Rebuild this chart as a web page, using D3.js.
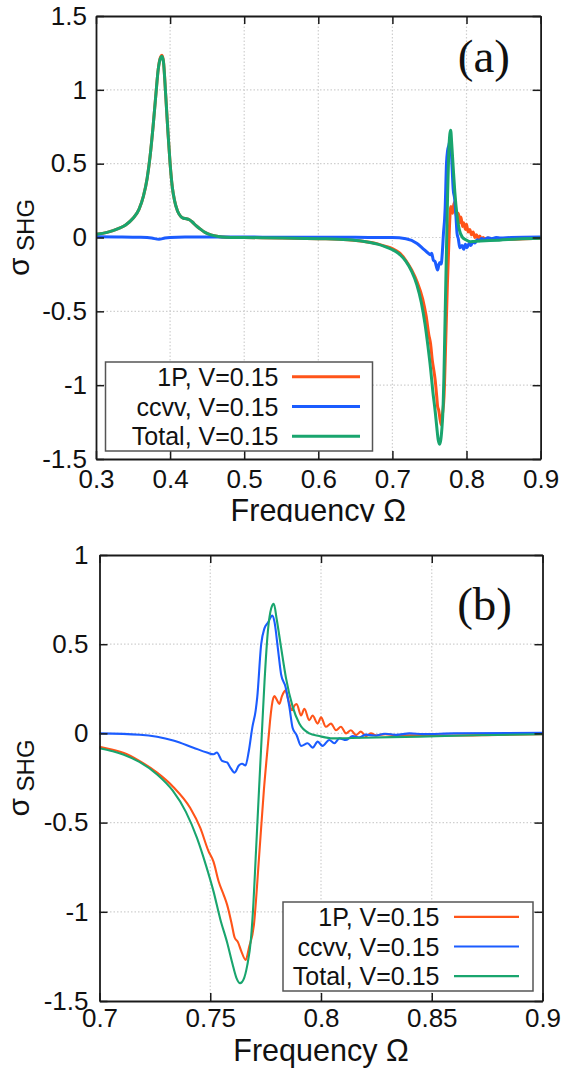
<!DOCTYPE html>
<html>
<head>
<meta charset="utf-8">
<script src="https://cdn.jsdelivr.net/npm/d3@7"></script>
<style>
  html, body { margin: 0; padding: 0; background: #fff; }
  svg { display: block; }
</style>
</head>
<body>
<svg id="chart" width="567" height="1068"></svg>
<script>
// ---------------- DATA ----------------
const seriesNames = ["1P, V=0.15", "ccvv, V=0.15", "Total, V=0.15"];

const onePOmega = [0.300,0.315,0.330,0.340,0.350,0.358,0.364,0.369,0.373,0.377,0.381,0.384,0.387,0.389,0.391,0.394,0.397,0.400,0.403,0.406,0.410,0.414,0.418,0.422,0.426,0.430,0.435,0.440,0.447,0.455,0.465,0.475,0.500,0.550,0.600,0.640,0.660,0.680,0.690,
  0.700,0.706,0.711,0.718,0.726,0.7333,0.7409,0.7455,0.7492,0.7515,0.7538,0.7561,0.7576,0.7598,0.761,0.7625,0.764,0.766,0.7675,0.7697,0.772,0.7742,0.7765,0.777,0.7785,0.779,0.780,0.7812,0.7824,0.7839,0.7854,0.7869,0.788,0.789,0.791,0.7925,0.7947,0.7962,0.7985,0.800,0.8022,0.8045,0.8068,0.809,0.8113,0.8135,0.8158,0.818,0.8203,0.8225,0.825,0.829,0.834,0.845,0.860,0.880,0.900];
const onePValue = [0.022,0.035,0.06,0.085,0.13,0.19,0.28,0.40,0.55,0.75,0.98,1.14,1.22,1.235,1.195,0.97,0.72,0.50,0.34,0.25,0.18,0.145,0.13,0.127,0.12,0.105,0.08,0.06,0.035,0.018,0.007,0.002,0.0,-0.003,-0.008,-0.015,-0.025,-0.043,-0.058,
  -0.075,-0.092,-0.11,-0.154,-0.22,-0.30,-0.417,-0.53,-0.66,-0.72,-0.83,-0.906,-0.96,-1.075,-1.144,-1.17,-1.22,-1.27,-1.20,-1.075,-0.70,-0.32,0.0,0.07,0.20,0.21,0.19,0.165,0.21,0.24,0.18,0.13,0.156,0.165,0.10,0.138,0.074,0.10,0.055,0.09,0.037,0.055,0.018,0.037,0.0,0.018,-0.01,0.01,-0.015,0.0,-0.012,-0.004,-0.012,-0.01,-0.012,-0.008,-0.005];

const ccvvOmega = [0.300,0.330,0.360,0.375,0.385,0.393,0.400,0.420,0.450,0.500,0.550,0.600,0.650,0.700,0.7182,0.7333,0.7424,0.7485,0.7515,0.753,0.7553,0.7576,0.759,0.761,0.7629,0.7644,0.7659,0.7674,0.769,0.7705,0.7712,0.773,0.7745,0.776,0.778,0.779,0.7805,0.782,0.784,0.7857,0.7872,0.789,0.791,0.794,0.7962,0.7985,0.8007,0.8037,0.806,0.8083,0.8113,0.8143,0.8173,0.8203,0.824,0.829,0.834,0.840,0.846,0.860,0.900];
const ccvvValue = [0.005,0.004,0.001,-0.004,-0.012,-0.004,0.0,0.004,0.003,0.003,0.002,0.002,0.001,0.0,-0.008,-0.04,-0.08,-0.107,-0.117,-0.107,-0.154,-0.163,-0.19,-0.22,-0.18,-0.17,-0.18,-0.10,0.034,0.128,0.20,0.50,0.59,0.62,0.66,0.625,0.48,0.33,0.26,0.15,0.03,-0.01,-0.07,-0.055,-0.08,-0.046,-0.07,-0.037,-0.055,-0.028,-0.037,-0.015,-0.022,-0.007,-0.012,-0.002,-0.008,0.0,-0.004,0.0,0.003];

const totalOmega = [0.300,0.315,0.330,0.340,0.350,0.358,0.364,0.369,0.373,0.377,0.381,0.384,0.387,0.389,0.391,0.394,0.397,0.400,0.403,0.406,0.410,0.414,0.418,0.422,0.426,0.430,0.435,0.440,0.447,0.455,0.465,0.475,0.500,0.550,0.600,0.640,0.660,0.680,0.690,
  0.700,0.706,0.711,0.718,0.726,0.733,0.739,0.744,0.748,0.7515,0.7545,0.7578,0.760,0.7618,0.7635,0.765,0.7667,0.7684,0.7695,0.7705,0.772,0.7735,0.7745,0.776,0.7775,0.7787,0.780,0.782,0.7842,0.7872,0.7902,0.7947,0.7992,0.8053,0.8188,0.8443,0.870,0.900];
const totalValue = [0.022,0.035,0.06,0.085,0.13,0.19,0.28,0.40,0.55,0.75,0.98,1.14,1.215,1.227,1.19,0.97,0.72,0.50,0.34,0.25,0.18,0.145,0.13,0.127,0.12,0.105,0.08,0.06,0.035,0.018,0.007,0.002,0.0,-0.003,-0.008,-0.015,-0.025,-0.045,-0.062,
  -0.083,-0.10,-0.12,-0.16,-0.23,-0.32,-0.44,-0.586,-0.737,-0.887,-1.04,-1.18,-1.29,-1.37,-1.40,-1.38,-1.30,-1.15,-0.95,-0.70,-0.32,0.05,0.29,0.57,0.70,0.726,0.64,0.48,0.31,0.15,0.055,0.0,-0.015,-0.028,-0.024,-0.018,-0.01,-0.005];

const panelAXTicks = [0.3, 0.4, 0.5, 0.6, 0.7, 0.8, 0.9];
const panelAYTicks = [-1.5, -1, -0.5, 0, 0.5, 1, 1.5];
const panelBXTicks = [0.7, 0.75, 0.8, 0.85, 0.9];
const panelBYTicks = [-1.5, -1, -0.5, 0, 0.5, 1];

const xTitle = "Frequency Ω";
const panelLabels = ["(a)", "(b)"];

// ---------------- STYLE / LAYOUT ----------------
const seriesColors = ["#ff5419", "#1b5cff", "#19a56e"];
const fontSans = "'Liberation Sans', Arial, sans-serif";
const fontSerif = "'Liberation Serif', 'Times New Roman', serif";

const series = seriesNames.map((name, i) => {
  const om = [onePOmega, ccvvOmega, totalOmega][i];
  const va = [onePValue, ccvvValue, totalValue][i];
  return { name, color: seriesColors[i], points: om.map((o, k) => [o, va[k]]) };
});

const panels = [
  { id: "a", label: panelLabels[0], xDomain: [0.3, 0.9], yDomain: [-1.5, 1.5],
    xTicks: panelAXTicks, yTicks: panelAYTicks,
    left: 96, right: 540.6, top: 16, bottom: 459,
    clipTop: 0, clipBottom: 522, lineW: 3, yPad: 9, xPad: 10.5,
    titleY: 521, yTitleX: 28.5,
    legend: { x0: 105.5, x1: 372.5, y0: 362, y1: 451, textRight: 278.5, l0: 292, l1: 360 },
    labelX: 510, labelY: 72 },
  { id: "b", label: panelLabels[1], xDomain: [0.7, 0.9], yDomain: [-1.5, 1],
    xTicks: panelBXTicks, yTicks: panelBYTicks,
    left: 99.5, right: 542.5, top: 555, bottom: 1001,
    clipTop: 526, clipBottom: 1068, lineW: 2.1, yPad: 11, xPad: 8,
    titleY: 1061, yTitleX: 28.5,
    legend: { x0: 283, x1: 533, y0: 902, y1: 991, textRight: 439.5, l0: 454, l1: 519 },
    labelX: 512, labelY: 620 }
];

const svg = d3.select("#chart");
const defs = svg.append("defs");

panels.forEach(p => {
  defs.append("clipPath").attr("id", "clip-" + p.id)
    .append("rect").attr("x", 0).attr("y", p.clipTop).attr("width", 567).attr("height", p.clipBottom - p.clipTop);
  defs.append("clipPath").attr("id", "plot-" + p.id)
    .append("rect").attr("x", p.left).attr("y", p.top).attr("width", p.right - p.left).attr("height", p.bottom - p.top);

  const g = svg.append("g").attr("clip-path", `url(#clip-${p.id})`);
  const x = d3.scaleLinear().domain(p.xDomain).range([p.left, p.right]);
  const y = d3.scaleLinear().domain(p.yDomain).range([p.bottom, p.top]);

  // grid
  const grid = g.append("g").attr("stroke", "#cfcfcf").attr("stroke-width", 1.2).attr("stroke-dasharray", "1.5,2");
  grid.selectAll("line.vx").data(p.xTicks.slice(1, -1)).join("line").attr("class", "vx")
    .attr("x1", d => x(d)).attr("x2", d => x(d)).attr("y1", p.top).attr("y2", p.bottom);
  grid.selectAll("line.hy").data(p.yTicks.filter(t => t > p.yDomain[0] && t < p.yDomain[1])).join("line").attr("class", "hy")
    .attr("y1", d => y(d)).attr("y2", d => y(d)).attr("x1", p.left).attr("x2", p.right);

  // curves
  const line = d3.line().x(d => x(d[0])).y(d => y(d[1])).curve(d3.curveMonotoneX);
  const curves = g.append("g").attr("clip-path", `url(#plot-${p.id})`);
  series.forEach(s => {
    curves.append("path").attr("d", line(s.points.filter(d => d[0] >= p.xDomain[0] - 0.01 && d[0] <= p.xDomain[1] + 0.01)))
      .attr("fill", "none").attr("stroke", s.color).attr("stroke-width", p.lineW)
      .attr("stroke-linejoin", "round").attr("stroke-linecap", "round");
  });

  // axes (inward ticks on all sides)
  const styleAxis = sel => {
    sel.select(".domain").attr("stroke", "#1a1a1a").attr("stroke-width", 1.8);
    sel.selectAll(".tick line").attr("stroke", "#1a1a1a").attr("stroke-width", 1.5);
    sel.selectAll("text").attr("font-family", fontSans).attr("font-size", 26).attr("fill", "#111");
  };
  const fmt = d => String(d);
  g.append("g").attr("transform", `translate(0,${p.bottom})`)
    .call(d3.axisBottom(x).tickValues(p.xTicks).tickFormat(fmt).tickSize(-8).tickSizeOuter(0).tickPadding(p.xPad))
    .call(styleAxis);
  g.append("g").attr("transform", `translate(0,${p.top})`)
    .call(d3.axisTop(x).tickValues(p.xTicks).tickFormat("").tickSize(-8).tickSizeOuter(0))
    .call(styleAxis);
  g.append("g").attr("transform", `translate(${p.left},0)`)
    .call(d3.axisLeft(y).tickValues(p.yTicks).tickFormat(fmt).tickSize(-8).tickSizeOuter(0).tickPadding(p.yPad))
    .call(styleAxis);
  g.append("g").attr("transform", `translate(${p.right},0)`)
    .call(d3.axisRight(y).tickValues(p.yTicks).tickFormat("").tickSize(-8).tickSizeOuter(0))
    .call(styleAxis);

  // x title
  g.append("text").attr("x", (p.left + p.right) / 2).attr("y", p.titleY)
    .attr("text-anchor", "middle").attr("font-family", fontSans).attr("font-size", 30.5).attr("fill", "#111")
    .text(xTitle);

  // y title (sigma_SHG)
  const yt = g.append("text")
    .attr("transform", `translate(${p.yTitleX},${(p.top + p.bottom) / 2}) rotate(-90)`)
    .attr("text-anchor", "middle").attr("font-family", fontSans).attr("fill", "#111");
  yt.append("tspan").attr("font-size", 30).text("σ");
  yt.append("tspan").attr("font-size", 24).attr("dy", 5).text(" SHG");

  // panel label
  g.append("text").attr("x", p.labelX).attr("y", p.labelY).attr("text-anchor", "end")
    .attr("font-family", fontSerif).attr("font-size", 47).attr("fill", "#111").text(p.label);

  // legend
  const L = p.legend;
  const lg = g.append("g");
  lg.append("rect").attr("x", L.x0).attr("y", L.y0).attr("width", L.x1 - L.x0).attr("height", L.y1 - L.y0)
    .attr("fill", "#fff").attr("stroke", "#555").attr("stroke-width", 1.5);
  const rowH = (L.y1 - L.y0) / 3;
  series.forEach((s, i) => {
    const cy = L.y0 + rowH * (i + 0.5);
    lg.append("text").attr("x", L.textRight).attr("y", cy + 9).attr("text-anchor", "end")
      .attr("font-family", fontSans).attr("font-size", 25).attr("fill", "#111").text(s.name);
    lg.append("line").attr("x1", L.l0).attr("x2", L.l1).attr("y1", cy).attr("y2", cy)
      .attr("stroke", s.color).attr("stroke-width", p.lineW);
  });
});
</script>
</body>
</html>
